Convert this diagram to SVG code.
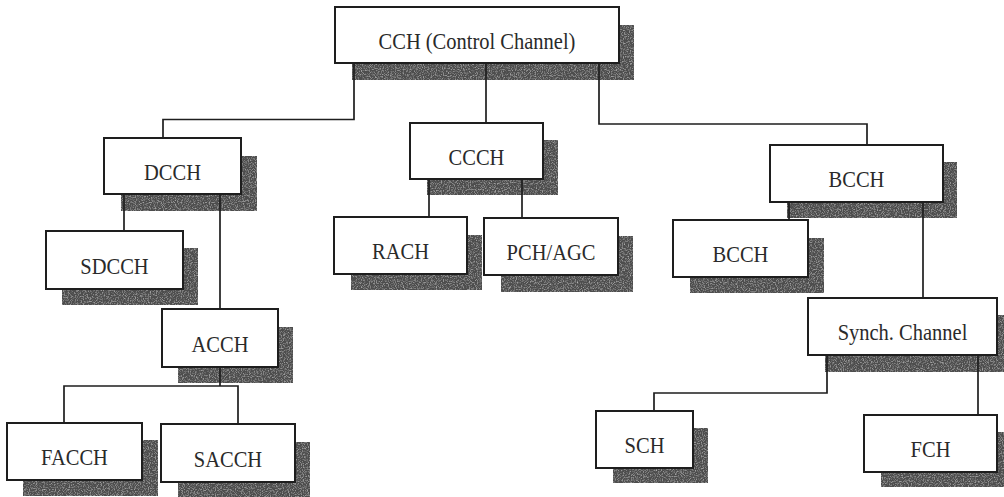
<svg xmlns="http://www.w3.org/2000/svg" width="1004" height="497" viewBox="0 0 1004 497">
  <style>
    .box { fill: #ffffff; stroke: #1e1e1e; stroke-width: 2; }
    .shadow { fill: #4e4e4e; filter: url(#grain); }
    .lbl { font-family: "Liberation Serif", "Times New Roman", serif; font-size: 20.5px; fill: #2a2a2a; text-anchor: middle; }
    .wire { fill: none; stroke: #1e1e1e; stroke-width: 1.7; }
  </style>
  <defs>
    <!-- speckled halftone texture for the drop shadows -->
    <filter id="grain" x="0" y="0" width="100%" height="100%">
      <feTurbulence type="fractalNoise" baseFrequency="0.85" numOctaves="2" seed="4" result="noise"/>
      <feColorMatrix in="noise" type="matrix" values="0 0 0 0 0.72  0 0 0 0 0.72  0 0 0 0 0.72  1.3 0 0 0 -0.62" result="speck"/>
      <feComposite in="speck" in2="SourceGraphic" operator="atop"/>
    </filter>
  </defs>
  <rect width="1004" height="497" fill="#ffffff"/>

  <!-- shadows sit below everything -->
  <g id="shadows">
    <rect class="shadow" x="352" y="25" width="282" height="55"/>
    <rect class="shadow" x="121" y="156" width="136" height="55"/>
    <rect class="shadow" x="62" y="248" width="136" height="57"/>
    <rect class="shadow" x="178" y="327" width="115" height="56"/>
    <rect class="shadow" x="23" y="440" width="135" height="56"/>
    <rect class="shadow" x="178" y="442" width="132" height="55"/>
    <rect class="shadow" x="427" y="140" width="131" height="55"/>
    <rect class="shadow" x="351" y="235" width="131" height="55"/>
    <rect class="shadow" x="501" y="236" width="132" height="56"/>
    <rect class="shadow" x="787" y="162" width="170" height="56"/>
    <rect class="shadow" x="690" y="238" width="134" height="55"/>
    <rect class="shadow" x="825" y="315" width="190" height="57"/>
    <rect class="shadow" x="613" y="428" width="95" height="55"/>
    <rect class="shadow" x="881" y="432" width="130" height="55"/>
  </g>

  <g id="connectors">
    <path class="wire" d="M354 63 V119.5 H163 V138"/>
    <path class="wire" d="M486 63 V123"/>
    <path class="wire" d="M599 63 V124 H867 V145"/>
    <path class="wire" d="M124 194 V231"/>
    <path class="wire" d="M220 194 V309"/>
    <path class="wire" d="M220 367 V386"/>
    <path class="wire" d="M64 423 V386 H238 V424"/>
    <path class="wire" d="M429 179 V217"/>
    <path class="wire" d="M522 179 V218"/>
    <path class="wire" d="M789 202 V220"/>
    <path class="wire" d="M923 202 V298"/>
    <path class="wire" d="M827 355 V393 H654 V411"/>
    <path class="wire" d="M978 355 V415"/>
  </g>

  <g id="cch">
    <rect class="box" x="335" y="7" width="284" height="56"/>
    <text class="lbl" transform="translate(477 48.5) scale(1 1.15)">CCH (Control Channel)</text>
  </g>
  <g id="dcch">
    <rect class="box" x="104" y="138" width="137" height="56"/>
    <text class="lbl" transform="translate(172.5 180) scale(1 1.15)">DCCH</text>
  </g>
  <g id="sdcch">
    <rect class="box" x="46" y="231" width="137" height="58"/>
    <text class="lbl" transform="translate(114.5 273.5) scale(1 1.15)">SDCCH</text>
  </g>
  <g id="acch">
    <rect class="box" x="162" y="309" width="116" height="58"/>
    <text class="lbl" transform="translate(220 351.5) scale(1 1.15)">ACCH</text>
  </g>
  <g id="facch">
    <rect class="box" x="7" y="423" width="135" height="57"/>
    <text class="lbl" transform="translate(74.5 465) scale(1 1.15)">FACCH</text>
  </g>
  <g id="sacch">
    <rect class="box" x="161" y="424" width="134" height="58"/>
    <text class="lbl" transform="translate(228 466.5) scale(1 1.15)">SACCH</text>
  </g>
  <g id="ccch">
    <rect class="box" x="410" y="123" width="133" height="56"/>
    <text class="lbl" transform="translate(476.5 164.5) scale(1 1.15)">CCCH</text>
  </g>
  <g id="rach">
    <rect class="box" x="334" y="217" width="133" height="57"/>
    <text class="lbl" transform="translate(400.5 259) scale(1 1.15)">RACH</text>
  </g>
  <g id="pch-agc">
    <rect class="box" x="484" y="218" width="134" height="57"/>
    <text class="lbl" transform="translate(551 260) scale(1 1.15)">PCH/AGC</text>
  </g>
  <g id="bcch">
    <rect class="box" x="770" y="145" width="173" height="57"/>
    <text class="lbl" transform="translate(856.5 187) scale(1 1.15)">BCCH</text>
  </g>
  <g id="bcch-sub">
    <rect class="box" x="673" y="220" width="135" height="57"/>
    <text class="lbl" transform="translate(740.5 262) scale(1 1.15)">BCCH</text>
  </g>
  <g id="synch">
    <rect class="box" x="808" y="298" width="189" height="57"/>
    <text class="lbl" transform="translate(902.5 340) scale(1 1.15)">Synch. Channel</text>
  </g>
  <g id="sch">
    <rect class="box" x="596" y="411" width="97" height="57"/>
    <text class="lbl" transform="translate(644.5 453) scale(1 1.15)">SCH</text>
  </g>
  <g id="fch">
    <rect class="box" x="864" y="415" width="133" height="57"/>
    <text class="lbl" transform="translate(930.5 457) scale(1 1.15)">FCH</text>
  </g>
</svg>
